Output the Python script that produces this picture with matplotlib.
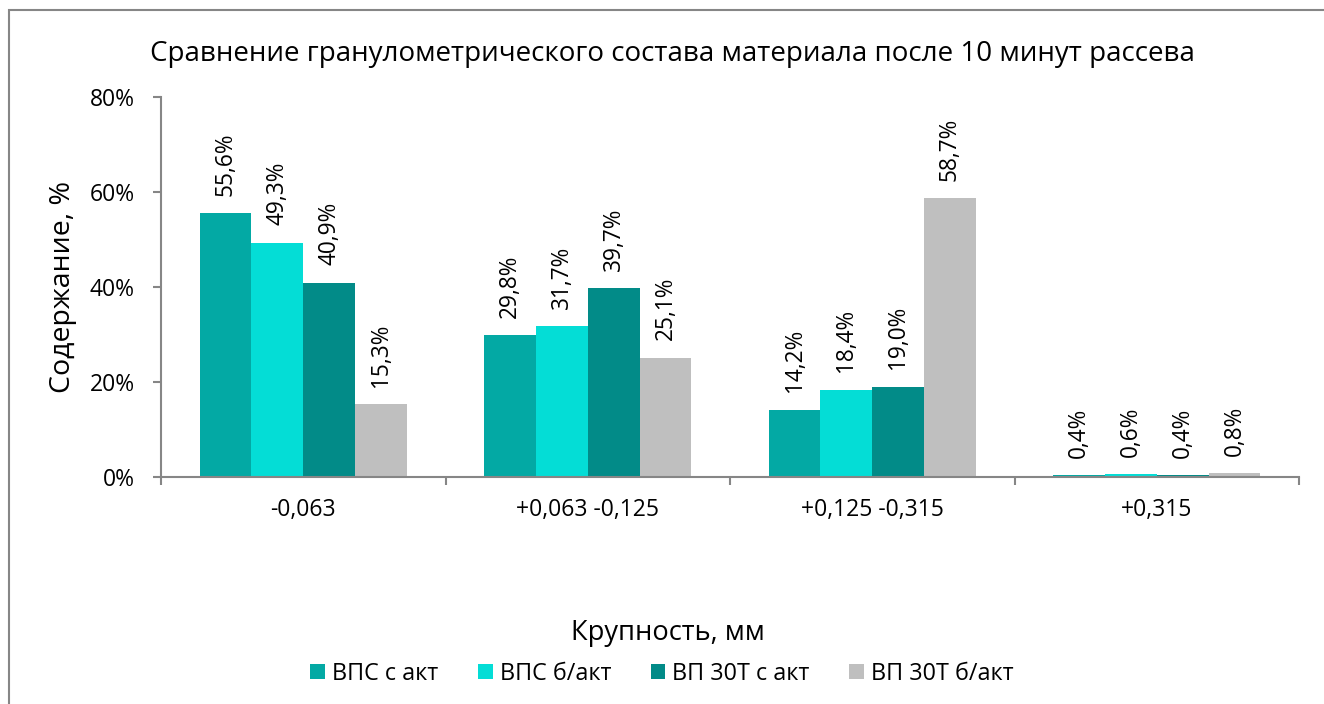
import matplotlib
matplotlib.use("Agg")
import matplotlib.pyplot as plt
from matplotlib.patches import Rectangle
import numpy as np

categories = ["-0,063", "+0,063 -0,125", "+0,125 -0,315", "+0,315"]
series_names = ["ВПС с акт", "ВПС б/акт", "ВП 30Т с акт", "ВП 30Т б/акт"]
vps_akt = [55.6, 29.8, 14.2, 0.4]
vps_bakt = [49.3, 31.7, 18.4, 0.6]
vp30_akt = [40.9, 39.7, 19.0, 0.4]
vp30_bakt = [15.3, 25.1, 58.7, 0.8]
series = [vps_akt, vps_bakt, vp30_akt, vp30_bakt]
colors = ["#03A9A4", "#04DDD6", "#028B88", "#BFBFBF"]
yticks = [0, 20, 40, 60, 80]

plt.rcParams['font.family'] = ['Open Sans', 'DejaVu Sans']

W, H = 1324, 704
fig = plt.figure(figsize=(W / 100, H / 100), dpi=100)
fig.patches.append(Rectangle((9 / W, -0.1), 1.2, 1 - 10 / H + 0.1, transform=fig.transFigure,
                             fill=False, edgecolor="#868686", linewidth=1.5, zorder=0))

left, right, top, bottom = 161, 1299, 97, 477
ax = fig.add_axes([left / W, 1 - bottom / H, (right - left) / W, (bottom - top) / H])

x = np.arange(len(categories))
bw = 0.182
offsets = (np.arange(4) - 1.5) * bw
for s, vals, c, off in zip(series_names, series, colors, offsets):
    bars = ax.bar(x + off, vals, width=bw, color=c, label=s, zorder=2)
    for b, v in zip(bars, vals):
        ax.annotate(f"{v:.1f}%".replace(".", ","),
                    (b.get_x() + b.get_width() / 2, v),
                    xytext=(0, 12.5), textcoords="offset points",
                    rotation=90, ha="center", va="bottom", fontsize=16.3)

ax.set_xlim(-0.5, len(categories) - 0.5)
ax.set_ylim(0, 80)
ax.set_yticks(yticks)
ax.set_yticklabels([f"{t}%" for t in yticks], fontsize=16.5)
ax.set_xticks(x)
ax.set_xticklabels(categories, fontsize=16.5)
ax.set_xticks(np.arange(len(categories) + 1) - 0.5, minor=True)
ax.tick_params(axis="x", which="major", length=0, pad=15)
ax.tick_params(axis="x", which="minor", length=6, color="#868686", width=1.5)
ax.tick_params(axis="y", length=6, color="#868686", width=1.5, pad=13)
for sp in ["top", "right"]:
    ax.spines[sp].set_visible(False)
for sp in ["left", "bottom"]:
    ax.spines[sp].set_color("#868686")
    ax.spines[sp].set_linewidth(1.5)

fig.text(672 / W, 1 - 54 / H, "Сравнение гранулометрического состава материала после 10 минут рассева",
         ha="center", va="center", fontsize=20)
fig.text(63 / W, 1 - 287 / H, "Содержание, %", rotation=90, ha="center", va="center", fontsize=20.5)
fig.text(668 / W, 1 - 633 / H, "Крупность, мм", ha="center", va="center", fontsize=19.6)

fig.legend(loc="center", bbox_to_anchor=(662 / W, 1 - 674 / H), ncol=4, frameon=False,
           fontsize=16.8, handlelength=0.63, handleheight=0.63, handletextpad=0.3,
           columnspacing=1.7)

fig.savefig("out.png", dpi=100)
